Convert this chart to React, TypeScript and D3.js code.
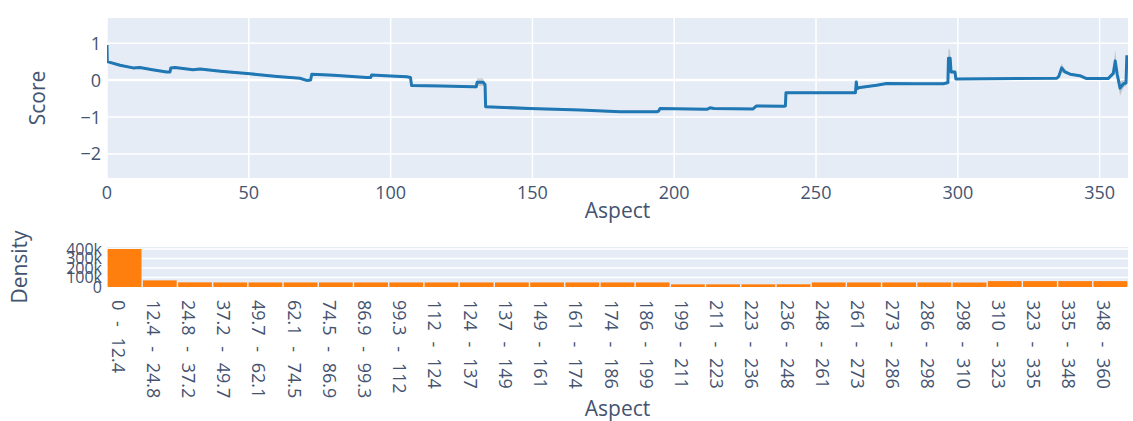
import React from "react";
import * as d3 from "d3";

// Score profile along aspect (degrees); vertical steps are pairs of close x values
const aspect = [
  0, 0.1, 4.6, 9.2, 11.6, 16, 21, 22.2, 22.5, 24, 30.3, 32.8, 40, 50.4, 60, 68, 70.4, 71.8, 72.2, 80,
  91.6, 93.0, 93.3, 100, 105.7, 107.0, 107.4, 118, 129, 130.2, 130.5, 132.6, 133.3, 133.5, 149, 166.8,
  181, 193.8, 194.5, 195, 211.5, 212.6, 214, 227.8, 229, 238.5, 239.2, 239.4, 263.9, 264.2, 264.5,
  265.5, 271.4, 274.9, 285, 294.9, 296.5, 296.7, 297.3, 297.6, 299, 299.3, 300.2, 334.9, 335.6, 336.6,
  337.8, 339.6, 343, 345.4, 353, 354.8, 355.5, 356.2, 357.2, 358.4, 359.3, 359.6,
];
const score = [
  0.95, 0.5, 0.4, 0.33, 0.34, 0.28, 0.22, 0.22, 0.33, 0.34, 0.28, 0.3, 0.24, 0.17, 0.1, 0.05, -0.01, 0.0, 0.16, 0.13,
  0.07, 0.07, 0.14, 0.11, 0.09, 0.07, -0.15, -0.16, -0.18, -0.18, -0.06, -0.06, -0.12, -0.72, -0.77, -0.81,
  -0.86, -0.86, -0.84, -0.77, -0.79, -0.75, -0.77, -0.78, -0.7, -0.71, -0.7, -0.34, -0.34, -0.05, -0.23,
  -0.2, -0.14, -0.09, -0.1, -0.1, -0.07, 0.59, 0.59, 0.22, 0.22, 0.03, 0.03, 0.05, 0.1, 0.33,
  0.22, 0.16, 0.12, 0.04, 0.04, 0.18, 0.52, 0.15, -0.22, -0.1, -0.08, 0.67,
];
// Half-width of the confidence band around the score
const spread = [
  0.0, 0.03, 0.03, 0.03, 0.03, 0.03, 0.03, 0.03, 0.03, 0.03, 0.03, 0.03, 0.03, 0.03, 0.03, 0.03, 0.03, 0.03, 0.03, 0.03,
  0.03, 0.03, 0.03, 0.03, 0.03, 0.03, 0.03, 0.03, 0.03, 0.05, 0.1, 0.1, 0.05, 0.03, 0.03, 0.03,
  0.03, 0.03, 0.03, 0.03, 0.03, 0.03, 0.03, 0.03, 0.03, 0.03, 0.03, 0.03, 0.03, 0.08, 0.03,
  0.03, 0.03, 0.03, 0.03, 0.03, 0.05, 0.27, 0.2, 0.05, 0.03, 0.03, 0.03, 0.03, 0.05, 0.12,
  0.05, 0.03, 0.03, 0.03, 0.03, 0.05, 0.3, 0.1, 0.2, 0.1, 0.08, 0.12,
];

const scoreTicks = [1, 0, -1, -2];
const aspectTicks = [0, 50, 100, 150, 200, 250, 300, 350];

// Histogram of aspect values
const binLabels = [
  "0 - 12.4", "12.4 - 24.8", "24.8 - 37.2", "37.2 - 49.7", "49.7 - 62.1", "62.1 - 74.5", "74.5 - 86.9",
  "86.9 - 99.3", "99.3 - 112", "112 - 124", "124 - 137", "137 - 149", "149 - 161", "161 - 174",
  "174 - 186", "186 - 199", "199 - 211", "211 - 223", "223 - 236", "236 - 248", "248 - 261",
  "261 - 273", "273 - 286", "286 - 298", "298 - 310", "310 - 323", "323 - 335", "335 - 348", "348 - 360",
];
const binCounts = [
  400000, 70000, 49000, 48000, 48000, 48000, 48000, 48000, 48000, 48000, 48000, 48000, 48000, 48000,
  48000, 48000, 28000, 28000, 28000, 29000, 48000, 48000, 48000, 48000, 47000, 62000, 62000, 62000, 62000,
];
const densityTicks = [0, 100000, 200000, 300000, 400000];

const W = 1133;
const H = 421;
const FONT = "'Open Sans', Verdana, Arial, sans-serif";
const TEXT = "#44536f";
const BG = "#E5ECF6";

const left = 107;
const right = 1128;
const top1 = 18;
const bottom1 = 178;
const top2 = 247;
const bottom2 = 287;

export default function App() {
  const x = d3.scaleLinear().domain([0, 360]).range([left, right]);
  const y = d3.scaleLinear().domain([-2.65, 1.68]).range([bottom1, top1]);

  const pts = aspect.map((a, i) => ({ a, s: score[i], e: spread[i] }));
  const line = d3
    .line<{ a: number; s: number }>()
    .x((d) => x(d.a))
    .y((d) => y(d.s));
  const band = d3
    .area<{ a: number; s: number; e: number }>()
    .x((d) => x(d.a))
    .y0((d) => y(d.s - d.e))
    .y1((d) => y(d.s + d.e));

  const xb = d3.scaleBand().domain(binLabels).range([left, right]).paddingInner(0.04).paddingOuter(0.02);
  const yb = d3.scaleLinear().domain([0, 421000]).range([bottom2, top2]);
  const fmtK = (v: number) => (v === 0 ? "0" : `${v / 1000}k`);

  return (
    <div style={{ position: "absolute", left: 0, top: 0 }}>
      <svg width={W} height={H} style={{ display: "block", background: "#fff" }} fontFamily={FONT}>
        <defs>
          <clipPath id="plot1">
            <rect x={left} y={top1} width={right - left} height={bottom1 - top1} />
          </clipPath>
        </defs>

        {/* Score vs aspect */}
        <rect x={left} y={top1} width={right - left} height={bottom1 - top1} fill={BG} />
        {aspectTicks.map((t) => (
          <line key={`vx${t}`} x1={x(t)} x2={x(t)} y1={top1} y2={bottom1} stroke="#fff" strokeWidth={1.5} />
        ))}
        {scoreTicks.map((t) => (
          <line key={`hy${t}`} x1={left} x2={right} y1={y(t)} y2={y(t)} stroke="#fff" strokeWidth={t === 0 ? 2.5 : 1.5} />
        ))}
        <g clipPath="url(#plot1)">
          <path d={band(pts) || ""} fill="rgba(110,110,110,0.3)" stroke="none" />
          <path d={line(pts) || ""} fill="none" stroke="#1f77b4" strokeWidth={3} strokeLinejoin="round" />
        </g>
        {scoreTicks.map((t) => (
          <text key={`yl${t}`} x={101} y={y(t)} dy="0.36em" textAnchor="end" fontSize={18} fill={TEXT}>
            {t < 0 ? `\u2212${Math.abs(t)}` : t}
          </text>
        ))}
        {aspectTicks.map((t) => (
          <text key={`xl${t}`} x={x(t)} y={199} textAnchor="middle" fontSize={18} fill={TEXT}>
            {t}
          </text>
        ))}
        <text x={(left + right) / 2} y={218} textAnchor="middle" fontSize={21} fill={TEXT}>
          Aspect
        </text>
        <text transform={`translate(45,${(top1 + bottom1) / 2}) rotate(-90)`} textAnchor="middle" fontSize={21} fill={TEXT}>
          Score
        </text>

        {/* Aspect histogram */}
        <rect x={left} y={top2} width={right - left} height={bottom2 - top2} fill={BG} />
        {densityTicks.map((t) => (
          <line key={`dg${t}`} x1={left} x2={right} y1={yb(t)} y2={yb(t)} stroke="#fff" strokeWidth={1.5} />
        ))}
        {binLabels.map((b, i) => (
          <rect
            key={`bar${b}`}
            x={xb(b)}
            y={yb(binCounts[i])}
            width={xb.bandwidth()}
            height={yb(0) - yb(binCounts[i])}
            fill="#ff7f0e"
          />
        ))}
        {densityTicks.map((t) => (
          <text key={`dl${t}`} x={102} y={yb(t)} dy="0.36em" textAnchor="end" fontSize={16} fill={TEXT}>
            {fmtK(t)}
          </text>
        ))}
        {binLabels.map((b) => (
          <text
            key={`bl${b}`}
            transform={`translate(${(xb(b) || 0) + xb.bandwidth() / 2 - 6},300) rotate(90)`}
            dominantBaseline="central"
            fontSize={18}
            wordSpacing={6}
            fill={TEXT}
          >
            {b}
          </text>
        ))}
        <text x={(left + right) / 2} y={416} textAnchor="middle" fontSize={21} fill={TEXT}>
          Aspect
        </text>
        <text transform={`translate(27,${(top2 + bottom2) / 2}) rotate(-90)`} textAnchor="middle" fontSize={21} fill={TEXT}>
          Density
        </text>
      </svg>
    </div>
  );
}
